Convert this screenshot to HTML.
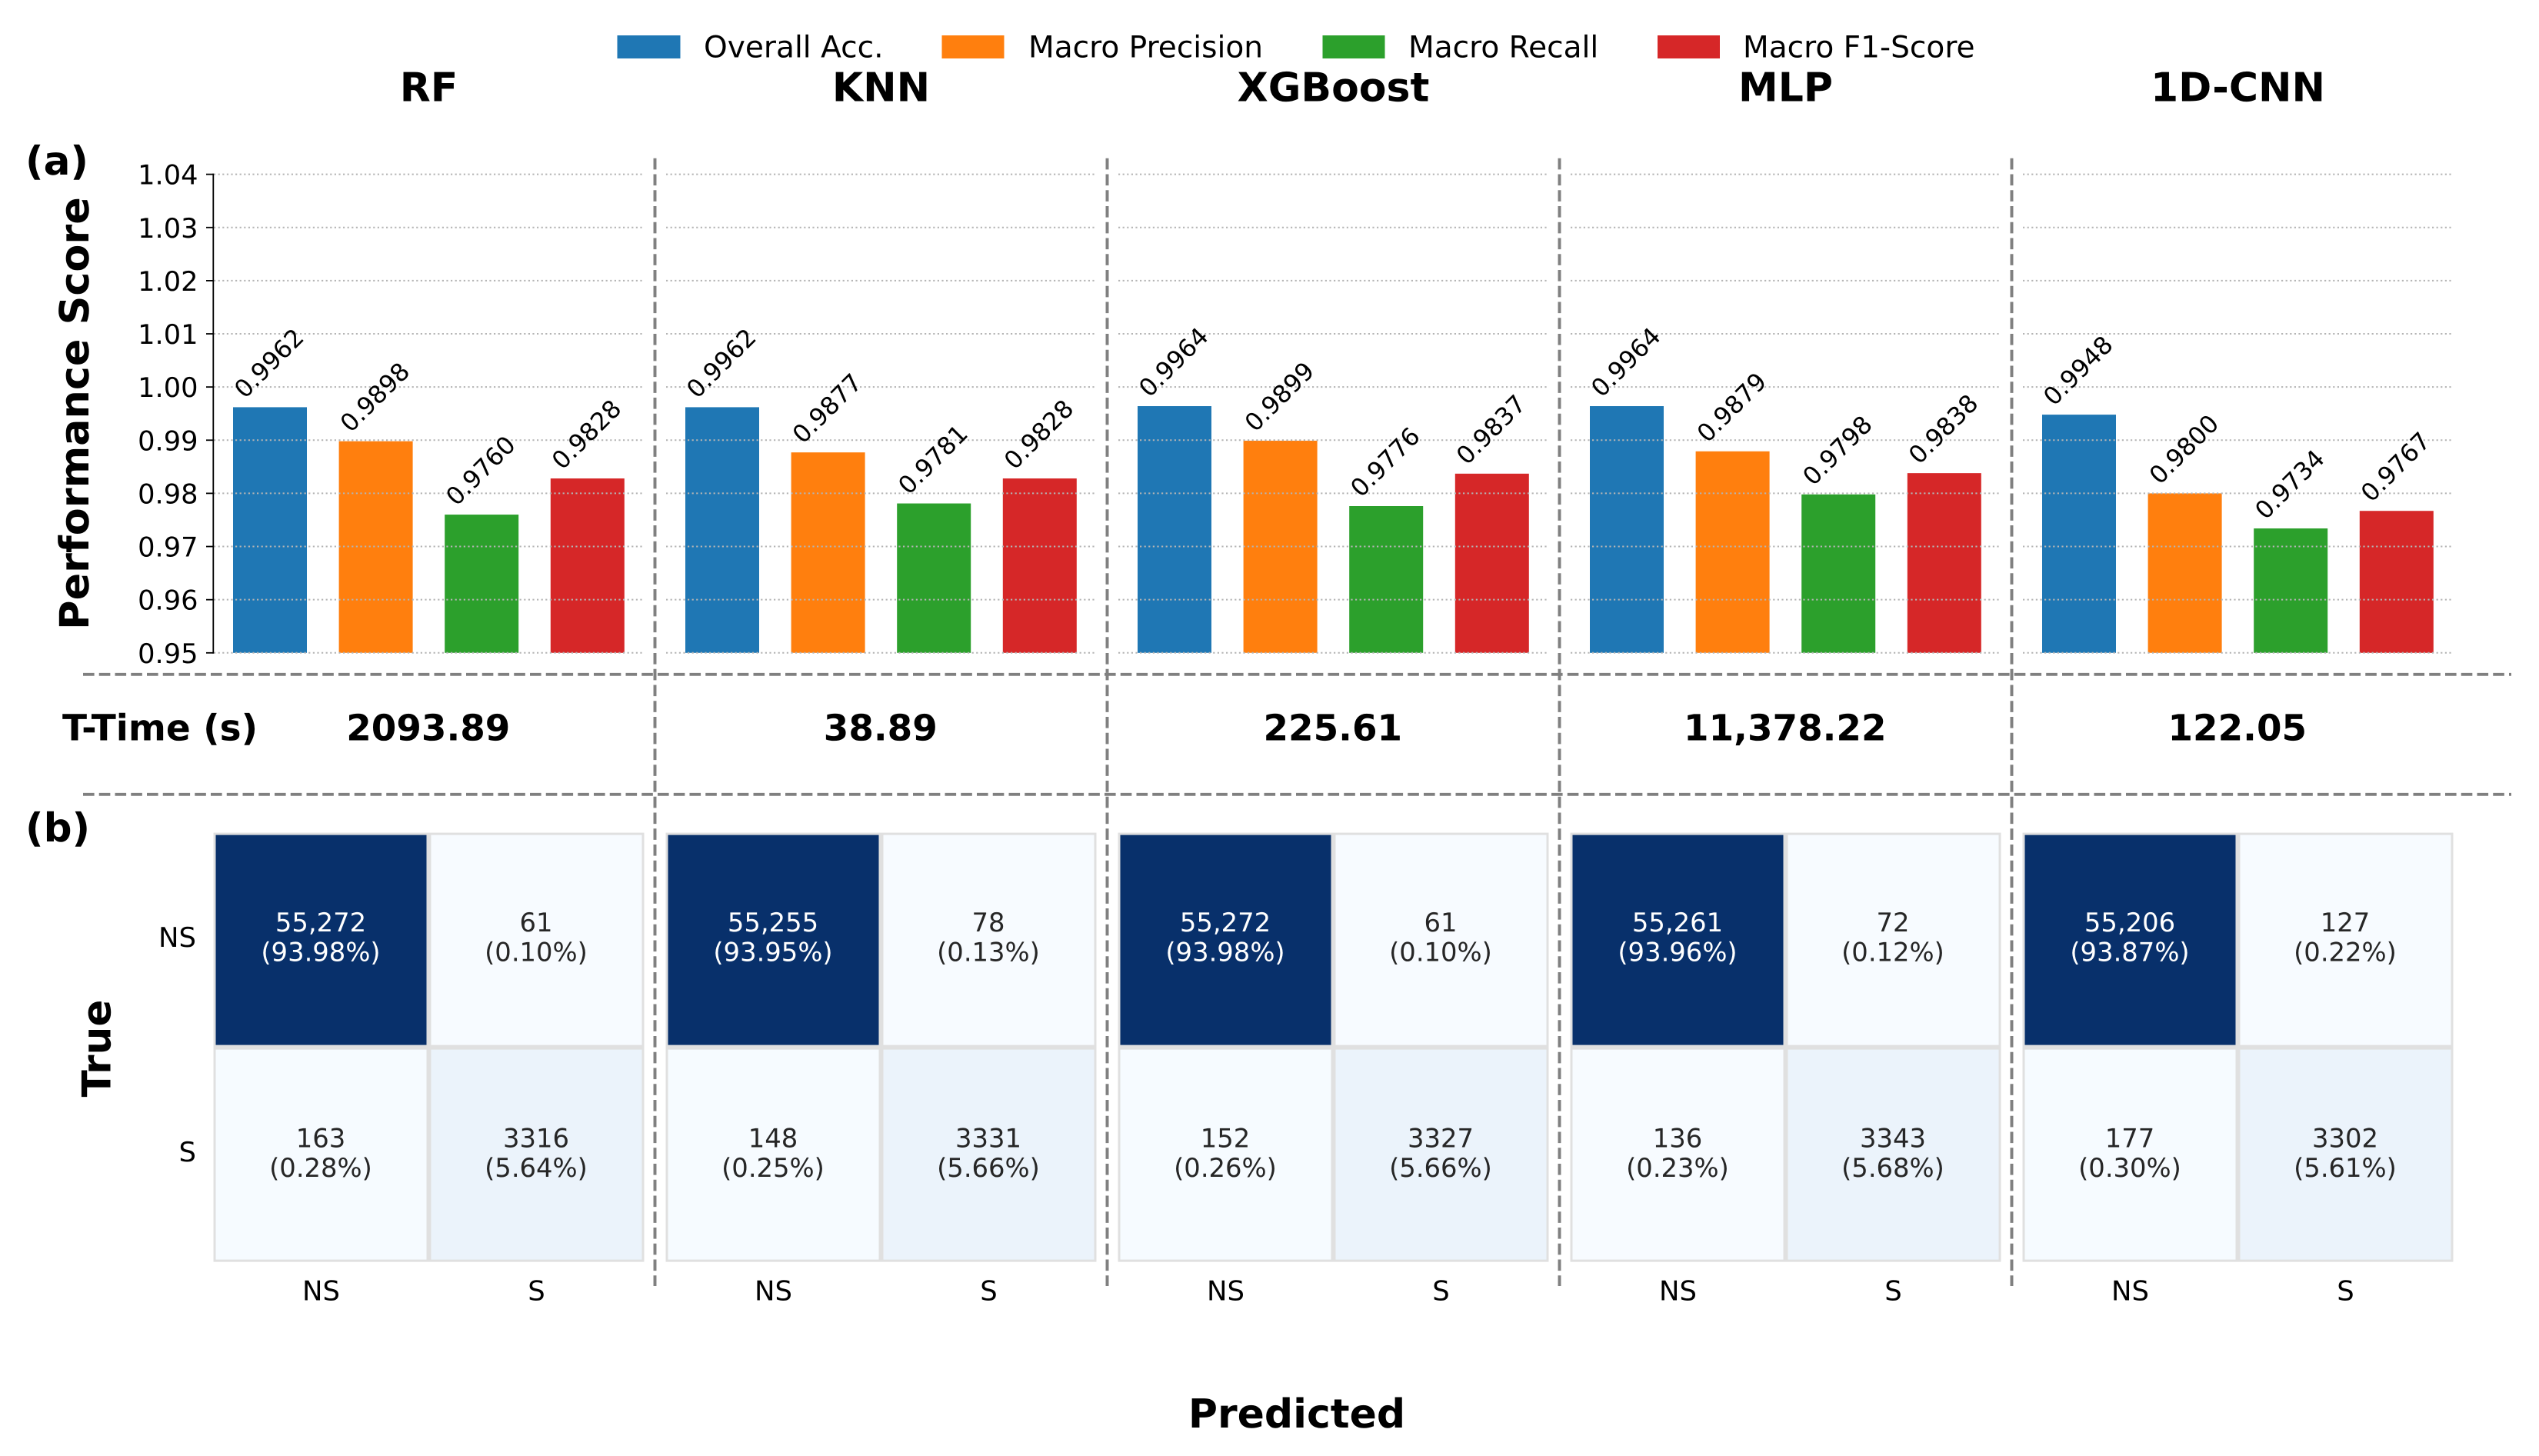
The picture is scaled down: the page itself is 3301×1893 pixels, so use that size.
<!DOCTYPE html>
<html lang="en">
<head>
<meta charset="utf-8">
<title>Model performance and confusion matrices</title>
<style>
html,body{margin:0;padding:0;background:#fff;}
svg{display:block;}
text{font-family:"DejaVu Sans","Liberation Sans",sans-serif;fill:#000;text-rendering:geometricPrecision;}
.bold{font-weight:700;}
</style>
</head>
<body>
<svg id="chart" xmlns="http://www.w3.org/2000/svg" width="3301" height="1893" viewBox="0 0 3301 1893">
  <rect x="0" y="0" width="3301" height="1893" fill="#ffffff"/>
  <g id="bars"></g>
  <g id="grid"></g>
  <g id="barlabels"></g>
  <g id="axis"></g>
  <g id="heat"></g>
  <g id="titles"></g>
  <g id="times"></g>

  <g stroke="#808080" stroke-width="3.95" stroke-dasharray="14.6 6.15" fill="none">
    <line x1="108" y1="876.8" x2="3265" y2="876.8"/>
    <line x1="108" y1="1032.8" x2="3265" y2="1032.8"/>
    <line x1="851.5" y1="205.8" x2="851.5" y2="1672"/>
    <line x1="1439.5" y1="205.8" x2="1439.5" y2="1672"/>
    <line x1="2027.5" y1="205.8" x2="2027.5" y2="1672"/>
    <line x1="2615.5" y1="205.8" x2="2615.5" y2="1672"/>
  </g>

  <g>
    <g>
      <rect x="802.5" y="46" width="82" height="30" fill="#1f77b4"/>
      <text x="915" y="74.7" font-size="39.1">Overall Acc.</text>
    </g>
    <g>
      <rect x="1224.5" y="46" width="81" height="30" fill="#ff7f0e"/>
      <text x="1337" y="74.7" font-size="39.1">Macro Precision</text>
    </g>
    <g>
      <rect x="1719.5" y="46" width="81" height="30" fill="#2ca02c"/>
      <text x="1831" y="74.7" font-size="39.1">Macro Recall</text>
    </g>
    <g>
      <rect x="2155" y="46" width="81" height="30" fill="#d62728"/>
      <text x="2266" y="74.7" font-size="39.1">Macro F1-Score</text>
    </g>
  </g>

  <text class="bold" x="33" y="227" font-size="51.6">(a)</text>
  <text class="bold" x="33" y="1094" font-size="51.6">(b)</text>
  <text class="bold" transform="translate(115 537.5) rotate(-90)" text-anchor="middle" font-size="52.4">Performance Score</text>
  <text class="bold" transform="translate(143.5 1363) rotate(-90)" text-anchor="middle" font-size="51.6">True</text>
  <text class="bold" x="1686" y="1856" text-anchor="middle" font-size="52">Predicted</text>
  <text class="bold" x="81" y="962.5" font-size="47">T-Time (s)</text>
</svg>

<script>
const modelNames = ['RF', 'KNN', 'XGBoost', 'MLP', '1D-CNN'];
const metricNames = ['Overall Acc.', 'Macro Precision', 'Macro Recall', 'Macro F1-Score'];
const metricColors = ['#1f77b4', '#ff7f0e', '#2ca02c', '#d62728'];
const overallAcc = [0.9962, 0.9962, 0.9964, 0.9964, 0.9948];
const macroPrecision = [0.9898, 0.9877, 0.9899, 0.9879, 0.9800];
const macroRecall = [0.9760, 0.9781, 0.9776, 0.9798, 0.9734];
const macroF1 = [0.9828, 0.9828, 0.9837, 0.9838, 0.9767];
const yTicks = [0.95, 0.96, 0.97, 0.98, 0.99, 1.00, 1.01, 1.02, 1.03, 1.04];
const trainingTimes = ['2093.89', '38.89', '225.61', '11,378.22', '122.05'];
const classLabels = ['NS', 'S'];
const countsNSNS = [55272, 55255, 55272, 55261, 55206];
const countsNSS = [61, 78, 61, 72, 127];
const countsSNS = [163, 148, 152, 136, 177];
const countsSS = [3316, 3331, 3327, 3343, 3302];
const pctNSNS = [93.98, 93.95, 93.98, 93.96, 93.87];
const pctNSS = [0.10, 0.13, 0.10, 0.12, 0.22];
const pctSNS = [0.28, 0.25, 0.26, 0.23, 0.30];
const pctSS = [5.64, 5.66, 5.66, 5.68, 5.61];

const NS = 'http://www.w3.org/2000/svg';
const panelLeft = 278, panelPitch = 588, panelWidth = 560;
const yBase = 848.8, yPerUnit = 6913;
const barCenter0 = 73, barPitch = 137.6, barWidth = 96;
const heatTop = 1082.6, heatCell = 279;
const blues = ['#f7fbff', '#deebf7', '#c6dbef', '#9ecae1', '#6baed6', '#4292c6', '#2171b5', '#08519c', '#08306b'];

function make(tag, parent, attrs, text) {
  const el = document.createElementNS(NS, tag);
  for (const k in attrs) el.setAttribute(k, attrs[k]);
  if (text !== undefined) el.textContent = text;
  parent.appendChild(el);
  return el;
}
function panelX(p) { return panelLeft + p * panelPitch; }
function yScale(v) { return yBase - (v - 0.95) * yPerUnit; }
function barX(p, m) { return panelX(p) + barCenter0 + m * barPitch; }
function heatColor(t) {
  const s = Math.min(Math.max(t, 0), 1) * 8, i = Math.min(Math.floor(s), 7), f = s - i;
  const a = blues[i], b = blues[i + 1];
  const ch = j => Math.round(parseInt(a.substr(j, 2), 16) * (1 - f) + parseInt(b.substr(j, 2), 16) * f);
  return 'rgb(' + ch(1) + ',' + ch(3) + ',' + ch(5) + ')';
}
function fmtCount(v) { return v >= 10000 ? v.toLocaleString('en-US') : String(v); }

const metricSeries = [overallAcc, macroPrecision, macroRecall, macroF1];
const gBars = document.getElementById('bars');
const gGrid = document.getElementById('grid');
const gLabels = document.getElementById('barlabels');
const gAxis = document.getElementById('axis');
const gHeat = document.getElementById('heat');
const gTitles = document.getElementById('titles');
const gTimes = document.getElementById('times');

modelNames.forEach(function (model, p) {
  const slug = model.toLowerCase();
  const cx = panelX(p) + panelWidth / 2;

  const title = make('text', gTitles, { x: cx - 0.5, y: 131.7, 'text-anchor': 'middle', 'font-size': 52, 'font-weight': 700 }, model);
  
  

  const time = make('text', gTimes, { x: cx - 1.2, y: 962.5, 'text-anchor': 'middle', 'font-size': 46.8, 'font-weight': 700 }, trainingTimes[p]);
  
  

  metricSeries.forEach(function (series, m) {
    const v = series[p];
    const top = yScale(v);
    const bar = make('rect', gBars, { x: barX(p, m) - barWidth / 2, y: top, width: barWidth, height: yScale(0.95) - top, fill: metricColors[m] });
    
    

    const lab = make('text', gLabels, { transform: 'translate(' + (barX(p, m) - 1.5) + ' ' + (top - 57.5) + ') rotate(-45)', y: 11.4, 'text-anchor': 'middle', 'font-size': 31.8 }, v.toFixed(4));
    
    
  });

  yTicks.forEach(function (t) {
    const gl = make('line', gGrid, { x1: panelX(p), x2: panelX(p) + panelWidth - 1, y1: yScale(t), y2: yScale(t), stroke: '#b4b4b4', 'stroke-width': 2, 'stroke-dasharray': '2.2 3.4' });
    
    
  });

  const hm = make('rect', gHeat, { x: panelX(p) - 0.5, y: heatTop, width: panelWidth, height: heatCell * 2, fill: '#e0e0e0' });
  
  

  const cw = panelWidth / 2;
  const cells = [
    [0, 0, countsNSNS[p], pctNSNS[p]],
    [0, 1, countsNSS[p], pctNSS[p]],
    [1, 0, countsSNS[p], pctSNS[p]],
    [1, 1, countsSS[p], pctSS[p]]
  ];
  const maxCount = Math.max(countsNSNS[p], countsNSS[p], countsSNS[p], countsSS[p]);
  cells.forEach(function (c) {
    const r = c[0], col = c[1], val = c[2], pct = c[3];
    const x = panelX(p) - 0.5 + col * cw;
    const y = heatTop + r * heatCell;
    const t = val / maxCount;
    const cell = make('rect', gHeat, { x: x + 3, y: y + 3, width: cw - 6, height: heatCell - 6, fill: heatColor(t) });
    
    

    const fill = t > 0.5 ? '#ffffff' : '#262626';
    const c1 = make('text', gHeat, { x: x + cw / 2 - 0.5, y: y + 128.6 + r * 1.2, 'text-anchor': 'middle', 'font-size': 33.8, style: 'fill:' + fill }, fmtCount(val));
    
    

    const c2 = make('text', gHeat, { x: x + cw / 2 - 0.5, y: y + 167 + r * 1.2, 'text-anchor': 'middle', 'font-size': 33.8, style: 'fill:' + fill }, '(' + pct.toFixed(2) + '%)');
    
    
  });

  classLabels.forEach(function (lbl, i) {
    const xt = make('text', gHeat, { x: panelX(p) - 0.5 + (i + 0.5) * cw, y: 1690.5, 'text-anchor': 'middle', 'font-size': 35.4 }, lbl);
    
    
  });
});

classLabels.forEach(function (lbl, i) {
  const yt = make('text', gHeat, { x: 255, y: heatTop + (i + 0.5) * heatCell + 9, 'text-anchor': 'end', 'font-size': 35.4 }, lbl);
  
  
});

const spine = make('line', gAxis, { x1: panelLeft - 0.7, x2: panelLeft - 0.7, y1: yScale(1.04) - 1, y2: yScale(0.95) + 1, stroke: '#000', 'stroke-width': 1.8 });



yTicks.forEach(function (t) {
  const tk = make('line', gAxis, { x1: panelLeft - 10, x2: panelLeft - 0.7, y1: yScale(t), y2: yScale(t), stroke: '#000', 'stroke-width': 1.8 });
  
  

  const tl = make('text', gAxis, { x: 257.5, y: yScale(t) + 13, 'text-anchor': 'end', 'font-size': 35.2 }, t.toFixed(2));
  
  
});
</script>
</body>
</html>
